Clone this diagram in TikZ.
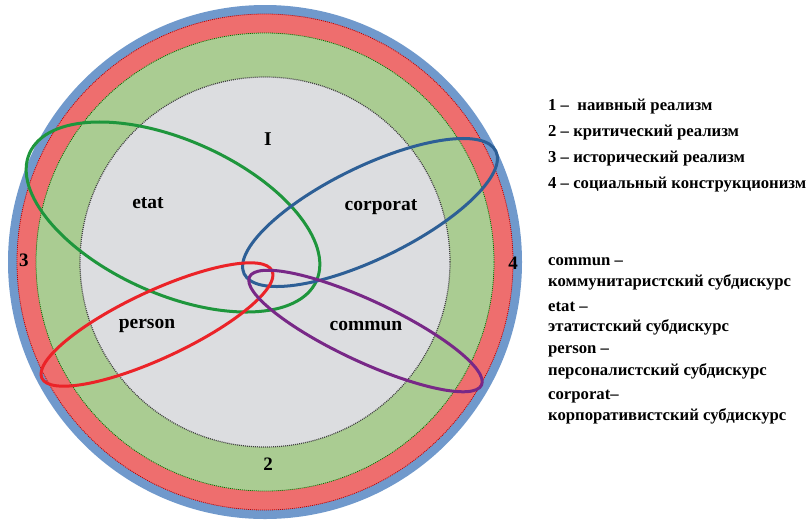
\documentclass[tikz,border=0pt]{standalone}
\usepackage{fontspec}
\setmainfont{Liberation Serif}
\definecolor{ringblue}{RGB}{112,153,204}
\definecolor{ringred}{RGB}{238,110,110}
\definecolor{ringgreen}{RGB}{170,204,146}
\definecolor{coregray}{RGB}{220,221,224}
\definecolor{elgreen}{RGB}{30,150,60}
\definecolor{elblue}{RGB}{45,95,150}
\definecolor{elred}{RGB}{235,35,40}
\definecolor{elpurple}{RGB}{120,40,135}
\begin{document}
\begin{tikzpicture}[x=1pt,y=-1pt,
  ell/.style={line width=3pt},
  inlabel/.style={font=\bfseries\fontsize{19.5}{22}\selectfont, inner sep=0pt},
  numlabel/.style={font=\bfseries\fontsize{19}{22}\selectfont, inner sep=0pt},
  legend/.style={font=\bfseries\fontsize{16.7}{19}\selectfont, inner sep=0pt, anchor=west}]
\useasboundingbox (0,0) rectangle (808,520);
\fill[white] (0,0) rectangle (808,520);
\coordinate (c) at (265,262);
\fill[ringblue] (c) circle[radius=257pt];
\fill[ringred] (c) circle[radius=248pt];
\draw[red!75!black, line width=0.8pt, dash pattern=on 1pt off 1pt] (c) circle[radius=248pt];
\fill[ringgreen] (c) circle[radius=229pt];
\draw[green!45!black, line width=0.8pt, dash pattern=on 1pt off 1pt] (c) circle[radius=229pt];
\fill[coregray] (c) circle[radius=185pt];
\draw[black!75, line width=1.2pt, dash pattern=on 1pt off 1pt] (c) circle[radius=185pt];

\draw[ell, elgreen, rotate around={-24:(173,217)}] (173,217) ellipse[x radius=157pt, y radius=77pt];
\draw[ell, elblue, rotate around={26:(370,212.5)}] (370,212.5) ellipse[x radius=140pt, y radius=46pt];
\draw[ell, elred, rotate around={25:(157,324.5)}] (157,324.5) ellipse[x radius=127pt, y radius=33.5pt];
\draw[ell, elpurple, rotate around={-25:(365.5,331)}] (365.5,331) ellipse[x radius=128pt, y radius=30.5pt];

\node[inlabel] (I) at (268,139) {I};
\node[inlabel] (etat) at (148,203) {etat};
\node[inlabel] (corporat) at (381,207) {corporat};
\node[inlabel] (person) at (147,326) {person};
\node[inlabel] (commun) at (366,326) {commun};
\node[numlabel] (n2) at (268,464) {2};
\node[numlabel] (n3) at (24,260) {3};
\node[numlabel] (n4) at (513,263) {4};

\node[legend] (l1) at (548,107) {1 –\ \ наивный реализм};
\node[legend] (l2) at (548,133) {2 – критический реализм};
\node[legend] (l3) at (548,159) {3 – исторический реализм};
\node[legend] (l4) at (548,185) {4 – социальный конструкционизм};

\node[legend] (d1a) at (548,262) {commun –};
\node[legend] (d1b) at (548,282) {коммунитаристский субдискурс};
\node[legend] (d2a) at (548,307) {etat –};
\node[legend] (d2b) at (548,327) {этатистский субдискурс};
\node[legend] (d3a) at (548,351) {person –};
\node[legend] (d3b) at (548,371) {персоналистский субдискурс};
\node[legend] (d4a) at (548,397) {corporat–};
\node[legend] (d4b) at (548,416) {корпоративистский субдискурс};
\end{tikzpicture}
\end{document}
